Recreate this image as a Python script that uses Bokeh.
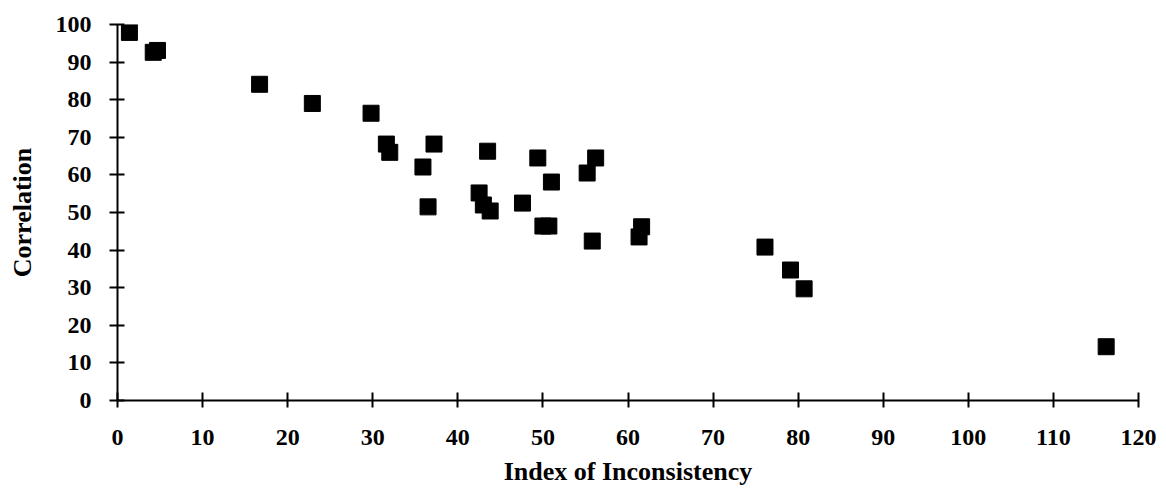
from bokeh.plotting import figure
from bokeh.models import Range1d, FixedTicker
from bokeh.embed import file_html
from bokeh.resources import INLINE

# Data
index_of_inconsistency = [1.4, 4.2, 4.7, 16.7, 22.9, 29.8, 31.6, 32.0, 37.2, 35.9,
                          36.5, 43.5, 42.5, 43.0, 43.8, 47.6, 49.4, 51.0, 50.0, 50.7,
                          55.2, 56.2, 55.8, 61.6, 61.3, 76.1, 79.1, 80.7, 116.2]
correlation = [97.9, 92.6, 93.1, 84.1, 79.0, 76.4, 68.2, 66.0, 68.2, 62.1,
               51.5, 66.3, 55.2, 52.0, 50.4, 52.5, 64.5, 58.1, 46.4, 46.4,
               60.5, 64.5, 42.4, 46.2, 43.5, 40.8, 34.7, 29.7, 14.3]
x_ticks = list(range(0, 121, 10))
y_ticks = list(range(0, 101, 10))

FONT = "Liberation Serif"

p = figure(width=1158, height=488, output_backend="svg", toolbar_location=None,
           x_range=Range1d(0, 120), y_range=Range1d(0, 100),
           min_border_left=117, min_border_right=20, min_border_top=24, min_border_bottom=87)

p.scatter(index_of_inconsistency, correlation, marker="square", size=16,
          fill_color="black", line_color="black")

p.xgrid.visible = False
p.ygrid.visible = False
p.outline_line_color = None
p.background_fill_color = "white"
p.border_fill_color = "white"

p.xaxis.ticker = FixedTicker(ticks=x_ticks)
p.yaxis.ticker = FixedTicker(ticks=y_ticks)
p.xaxis.minor_tick_line_color = None
p.yaxis.minor_tick_line_color = None

for ax in (p.xaxis[0], p.yaxis[0]):
    ax.axis_line_color = "black"
    ax.axis_line_width = 2
    ax.major_tick_line_color = "black"
    ax.major_tick_line_width = 2
    ax.major_label_text_font = FONT
    ax.major_label_text_font_style = "bold"
    ax.major_label_text_font_size = "24px"
    ax.major_label_text_color = "black"
    ax.axis_label_text_font = FONT
    ax.axis_label_text_font_style = "bold"
    ax.axis_label_text_font_size = "26px"
    ax.axis_label_text_color = "black"

p.xaxis.major_tick_in = 8
p.xaxis.major_tick_out = 7
p.yaxis.major_tick_in = 7
p.yaxis.major_tick_out = 8
p.xaxis.major_label_standoff = 22
p.yaxis.major_label_standoff = 18
p.xaxis.axis_label = "Index of Inconsistency"
p.yaxis.axis_label = "Correlation"
p.xaxis.axis_label_standoff = 9
p.yaxis.axis_label_standoff = 16

open("out.html", "w").write(file_html(p, INLINE))
